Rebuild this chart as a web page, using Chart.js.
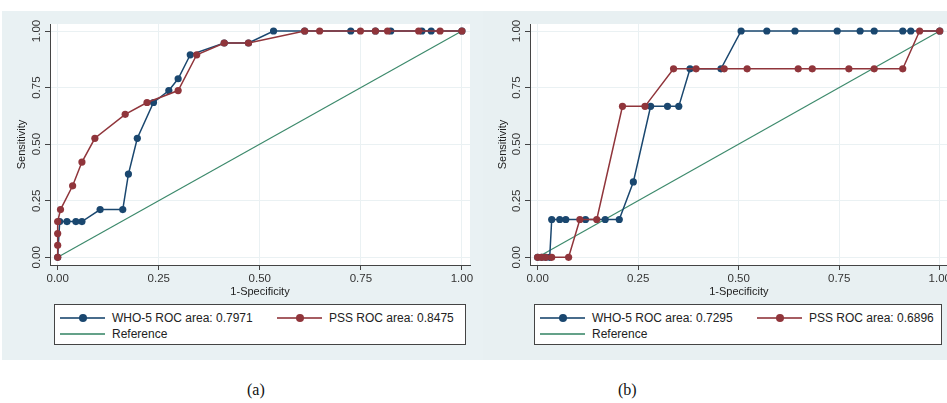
<!DOCTYPE html>
<html>
<head>
<meta charset="utf-8">
<script src="https://cdn.jsdelivr.net/npm/chart.js@4.4.1/dist/chart.umd.min.js"></script>
<style>
  html, body { margin: 0; padding: 0; background: #fff; overflow: hidden; }
  body { width: 947px; height: 403px; position: relative; font-family: "Liberation Sans", Arial, sans-serif; }
  .panel { position: absolute; top: 11px; height: 349px; background: #e9f1f3; }
  .cv { position: absolute; top: 11px; }
  .legend { position: absolute; top: 304px; height: 39px; background: #fff; border: 1px solid #444; }
  .item { position: absolute; height: 14px; font-size: 12px; line-height: 14px; color: #222; white-space: nowrap; }
  .swatch { position: absolute; top: 7px; width: 45px; height: 0; }
  .swatch .line { position: absolute; left: 0; right: 0; top: -1px; height: 2px; }
  .swatch .dot { position: absolute; left: 19px; top: -4px; width: 8px; height: 8px; border-radius: 50%; }
  .label { position: absolute; left: 52px; top: 0; }
  .cap { position: absolute; top: 381px; font-family: "Liberation Serif", "Times New Roman", serif; font-size: 16px; color: #111; }
</style>
</head>
<body>
<div class="panel" style="left:2px;width:481px"></div>
<div class="panel" style="left:483px;width:464px;background:#e8f0f2"></div>
<canvas id="chart-a" class="cv" style="left:2px" width="481" height="289"></canvas>
<canvas id="chart-b" class="cv" style="left:483px" width="470" height="289"></canvas>
<div id="legend-a" class="legend" style="left:54px;width:410px"></div>
<div id="legend-b" class="legend" style="left:534px;width:406px"></div>
<div class="cap" style="left:247px">(a)</div>
<div class="cap" style="left:618px">(b)</div>
<script>
// ROC curves, panel (a)
const whoA_fpr = [0, 0.005, 0.023, 0.045, 0.06, 0.105, 0.161, 0.175, 0.197, 0.237, 0.275, 0.298, 0.328, 0.412, 0.472, 0.534, 0.611, 0.725, 0.786, 0.824, 0.901, 0.924, 1.0];
const whoA_tpr = [0, 0.158, 0.158, 0.158, 0.158, 0.211, 0.211, 0.368, 0.526, 0.684, 0.737, 0.789, 0.895, 0.947, 0.947, 1, 1, 1, 1, 1, 1, 1, 1];
const pssA_fpr = [0, 0, 0, 0, 0.007, 0.037, 0.06, 0.092, 0.167, 0.221, 0.298, 0.344, 0.412, 0.472, 0.611, 0.648, 0.749, 0.786, 0.816, 0.893, 0.946, 1.0];
const pssA_tpr = [0, 0.053, 0.105, 0.158, 0.211, 0.316, 0.421, 0.526, 0.632, 0.684, 0.737, 0.895, 0.947, 0.947, 1, 1, 1, 1, 1, 1, 1, 1];

// ROC curves, panel (b)
const whoB_fpr = [0, 0.01, 0.02, 0.03, 0.035, 0.055, 0.07, 0.119, 0.168, 0.203, 0.238, 0.281, 0.323, 0.351, 0.379, 0.456, 0.506, 0.570, 0.640, 0.745, 0.802, 0.837, 0.908, 0.928, 1.0];
const whoB_tpr = [0, 0, 0, 0, 0.167, 0.167, 0.167, 0.167, 0.167, 0.167, 0.333, 0.667, 0.667, 0.667, 0.833, 0.833, 1, 1, 1, 1, 1, 1, 1, 1, 1];
const pssB_fpr = [0, 0.01, 0.02, 0.035, 0.077, 0.105, 0.147, 0.211, 0.267, 0.338, 0.394, 0.464, 0.521, 0.648, 0.683, 0.774, 0.837, 0.908, 0.95, 1.0];
const pssB_tpr = [0, 0, 0, 0, 0, 0.167, 0.167, 0.667, 0.667, 0.833, 0.833, 0.833, 0.833, 0.833, 0.833, 0.833, 0.833, 0.833, 1, 1];

const ref_x = [0, 1];
const ref_y = [0, 1];

const TICKS = [0, 0.25, 0.5, 0.75, 1];
const AUC_A = { who: "0.7971", pss: "0.8475" };
const AUC_B = { who: "0.7295", pss: "0.6896" };

const BLUE = "#1a476f";
const RED = "#90353b";
const GREEN = "#3d8a6c";
const FONT = "'Liberation Sans', Arial, sans-serif";

const pts = (xs, ys) => xs.map((x, i) => ({ x, y: ys[i] }));

const plotBg = {
  id: "plotBg",
  beforeDraw(chart) {
    const { ctx, chartArea: a } = chart;
    ctx.save();
    ctx.fillStyle = "#fff";
    ctx.fillRect(a.left, a.top, a.right - a.left, a.bottom - a.top);
    ctx.restore();
  },
};

function series(label, xs, ys, color, order) {
  return {
    label, data: pts(xs, ys), order,
    borderColor: color, backgroundColor: color,
    borderWidth: 1.5, pointRadius: 3.6, pointBorderWidth: 0,
    pointBackgroundColor: color, tension: 0,
  };
}

function makeChart(id, who, pss, yWidth, padRight) {
  return new Chart(document.getElementById(id), {
    type: "line",
    data: {
      datasets: [
        series("PSS", pss[0], pss[1], RED, 0),
        series("WHO-5", who[0], who[1], BLUE, 1),
        { label: "Reference", data: pts(ref_x, ref_y), order: 2, borderColor: GREEN,
          borderWidth: 1.2, pointRadius: 0, tension: 0 },
      ],
    },
    options: {
      responsive: false,
      animation: false,
      layout: { padding: { top: 13, right: padRight, left: 0, bottom: 0 } },
      plugins: { legend: { display: false }, tooltip: { enabled: false } },
      scales: {
        x: {
          type: "linear", min: -0.019, max: 1.02,
          afterBuildTicks: s => { s.ticks = TICKS.map(v => ({ value: v })); },
          afterFit: s => { s.height = 35; },
          grid: { color: "#eaf1f3", tickColor: "#444", tickLength: 5 },
          border: { color: "#444", width: 1 },
          ticks: { padding: 2, color: "#333", font: { family: FONT, size: 11.5 }, callback: v => v.toFixed(2), maxRotation: 0 },
          title: { display: true, text: "1-Specificity", color: "#222", font: { family: FONT, size: 11 }, padding: { top: 0, bottom: 1 } },
        },
        y: {
          type: "linear", min: -0.034, max: 1.031,
          afterBuildTicks: s => { s.ticks = TICKS.map(v => ({ value: v })); },
          afterFit: s => { s.width = yWidth; },
          grid: { color: "#eaf1f3", tickColor: "#444", tickLength: 5 },
          border: { color: "#444", width: 1 },
          ticks: { padding: -3, crossAlign: "center", minRotation: 90, maxRotation: 90, color: "#333", font: { family: FONT, size: 11.5 }, callback: v => v.toFixed(2) },
          title: { display: true, text: "Sensitivity", color: "#222", font: { family: FONT, size: 11 }, padding: { top: 13, bottom: 0 } },
        },
      },
    },
    plugins: [plotBg],
  });
}

function buildLegend(id, auc) {
  const host = document.getElementById(id);
  const items = [
    { text: `WHO-5 ROC area: ${auc.who}`, color: BLUE, dot: true, left: 5, top: 6 },
    { text: `PSS ROC area: ${auc.pss}`, color: RED, dot: true, left: 222, top: 6 },
    { text: "Reference", color: GREEN, dot: false, left: 5, top: 22 },
  ];
  for (const it of items) {
    const el = document.createElement("div");
    el.className = "item";
    el.style.left = it.left + "px";
    el.style.top = it.top + "px";
    el.innerHTML = `<div class="swatch"><div class="line" style="background:${it.color};opacity:.8"></div>` +
      (it.dot ? `<div class="dot" style="background:${it.color}"></div>` : "") +
      `</div><span class="label"></span>`;
    el.querySelector(".label").textContent = it.text;
    host.appendChild(el);
  }
}

makeChart("chart-a", [whoA_fpr, whoA_tpr], [pssA_fpr, pssA_tpr], 48, 13);
makeChart("chart-b", [whoB_fpr, whoB_tpr], [pssB_fpr, pssB_tpr], 47, 2);
buildLegend("legend-a", AUC_A);
buildLegend("legend-b", AUC_B);
</script>
</body>
</html>
